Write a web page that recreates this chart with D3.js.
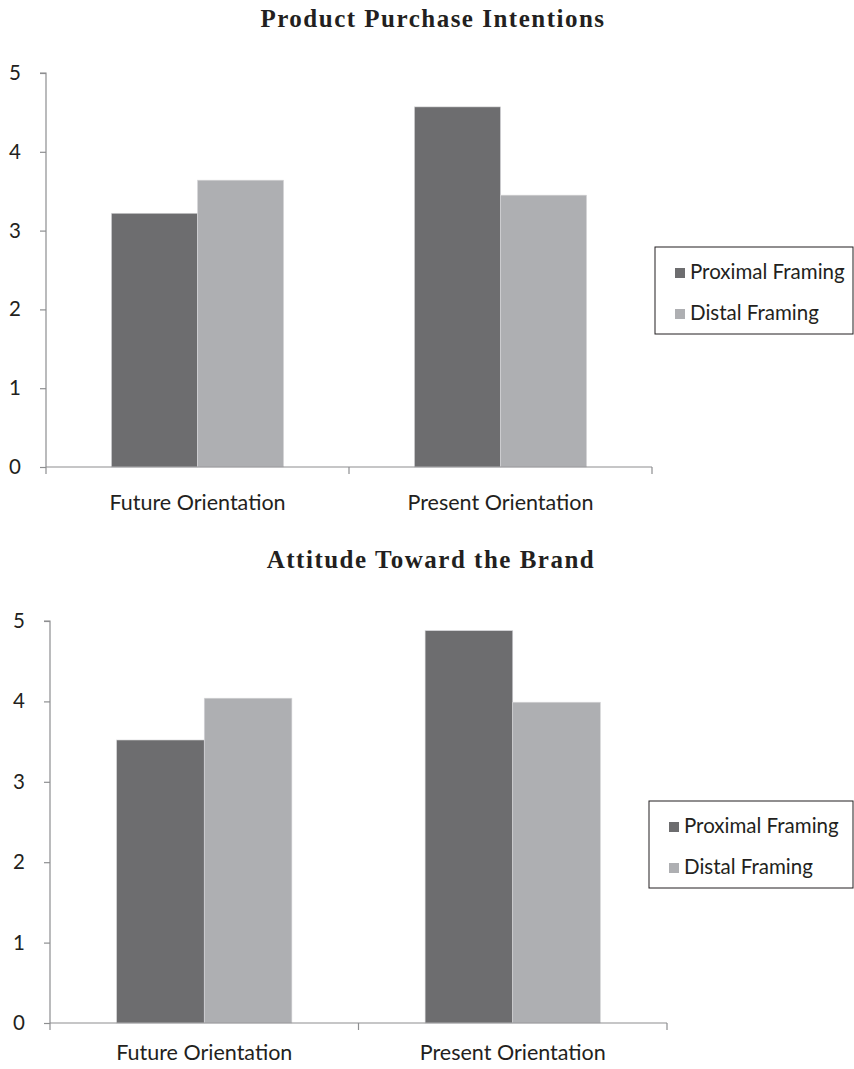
<!DOCTYPE html>
<html><head><meta charset="utf-8">
<script src="https://cdn.jsdelivr.net/npm/d3@7"></script>
<style>
body{margin:0;background:#fff;}
svg{display:block;}
</style></head>
<body>
<svg id="chart" width="854" height="1069"></svg>
<script>
const categories = ["Future Orientation", "Present Orientation"];
const seriesNames = ["Proximal Framing", "Distal Framing"];
const purchaseProximal = [3.22, 4.57];
const purchaseDistal = [3.64, 3.45];
const attitudeProximal = [3.52, 4.88];
const attitudeDistal = [4.04, 3.99];
const yTicks = [0, 1, 2, 3, 4, 5];
const titles = ["Product Purchase Intentions", "Attitude Toward the Brand"];

const colors = {"Proximal Framing": "#6d6d6f", "Distal Framing": "#aeafb2"};
const textColor = "#231f20";
const sansFont = "Lato, 'Open Sans', sans-serif";
const serifFont = "'Liberation Serif', serif";

const svg = d3.select("#chart");

function drawChart(cfg, proximal, distal, title) {
  const g = svg.append("g");
  const y = d3.scaleLinear().domain([0, 5]).range([cfg.y0, cfg.y5]);
  const x0 = d3.scaleBand().domain(categories).range([cfg.xL, cfg.xR]).paddingInner(0).paddingOuter(0);
  const x1 = d3.scaleBand().domain(seriesNames).range([0, x0.bandwidth()]).paddingInner(0).paddingOuter(0.76);

  const rows = categories.map((c, i) => ({cat: c, vals: [
    {s: seriesNames[0], v: proximal[i]}, {s: seriesNames[1], v: distal[i]}]}));

  // title
  g.append("text").attr("x", cfg.titleX).attr("y", cfg.titleY)
    .attr("text-anchor", "middle").attr("font-family", serifFont)
    .attr("font-weight", "bold").attr("font-size", 25).attr("letter-spacing", 1.5)
    .attr("fill", textColor)
    .text(title);

  // bars
  g.selectAll("g.cat").data(rows).join("g")
    .attr("transform", d => `translate(${x0(d.cat)},0)`)
    .selectAll("rect").data(d => d.vals).join("rect")
    .attr("x", d => x1(d.s)).attr("width", x1.bandwidth())
    .attr("y", d => y(d.v)).attr("height", d => y(0) - y(d.v))
    .attr("fill", d => colors[d.s]).attr("stroke", "#d8d8da").attr("stroke-width", 0.6);

  // y axis
  const yAxis = d3.axisLeft(y).tickValues(yTicks).tickSize(6).tickPadding(19).tickFormat(d3.format("d"));
  const ya = g.append("g").attr("transform", `translate(${cfg.xL},0)`).call(yAxis);
  ya.select(".domain").attr("stroke", "#8d8e90").attr("stroke-width", 1.2).attr("d", `M-6,${cfg.y5}H0V${cfg.y0}`);
  ya.selectAll(".tick line").attr("stroke", "#8d8e90").attr("stroke-width", 1.2);
  ya.selectAll(".tick text").attr("font-family", sansFont).attr("font-size", 20.5).attr("fill", textColor);

  // x axis
  const xAxis = d3.axisBottom(x0).tickSize(0).tickPadding(cfg.labelPad);
  const xa = g.append("g").attr("transform", `translate(0,${cfg.y0})`).call(xAxis);
  xa.select(".domain").attr("stroke", "#8d8e90").attr("stroke-width", 1.2).attr("d", `M${cfg.xL},0H${cfg.xR}`);
  xa.selectAll(".tick text").attr("font-family", sansFont).attr("font-size", 21.5).attr("fill", textColor);
  const edges = [cfg.xL, (cfg.xL + cfg.xR) / 2, cfg.xR];
  xa.selectAll("line.edge").data(edges).join("line").attr("class", "edge")
    .attr("x1", d => d).attr("x2", d => d).attr("y1", 0).attr("y2", 7)
    .attr("stroke", "#8d8e90").attr("stroke-width", 1.2);

  // legend
  const lg = g.append("g");
  lg.append("rect").attr("x", cfg.legX).attr("y", cfg.legY).attr("width", cfg.legW).attr("height", cfg.legH)
    .attr("fill", "#fff").attr("stroke", "#231f20").attr("stroke-width", 1);
  seriesNames.forEach((s, i) => {
    lg.append("rect").attr("x", cfg.legX + 20).attr("y", cfg.legY + 21 + i * 41)
      .attr("width", 10).attr("height", 10).attr("fill", colors[s]);
    lg.append("text").attr("x", cfg.legX + 35).attr("y", cfg.legY + 32 + i * 41)
      .attr("font-family", sansFont).attr("font-size", 20.5).attr("fill", textColor).text(s);
  });
}

drawChart({xL: 46, xR: 652, y0: 467, y5: 73, titleX: 433, titleY: 27, labelPad: 28,
  legX: 655, legY: 247, legW: 198, legH: 87}, purchaseProximal, purchaseDistal, titles[0]);
drawChart({xL: 50, xR: 667, y0: 1023, y5: 621, titleX: 431, titleY: 568, labelPad: 22,
  legX: 649, legY: 801, legW: 204, legH: 87}, attitudeProximal, attitudeDistal, titles[1]);
</script>
</body></html>
